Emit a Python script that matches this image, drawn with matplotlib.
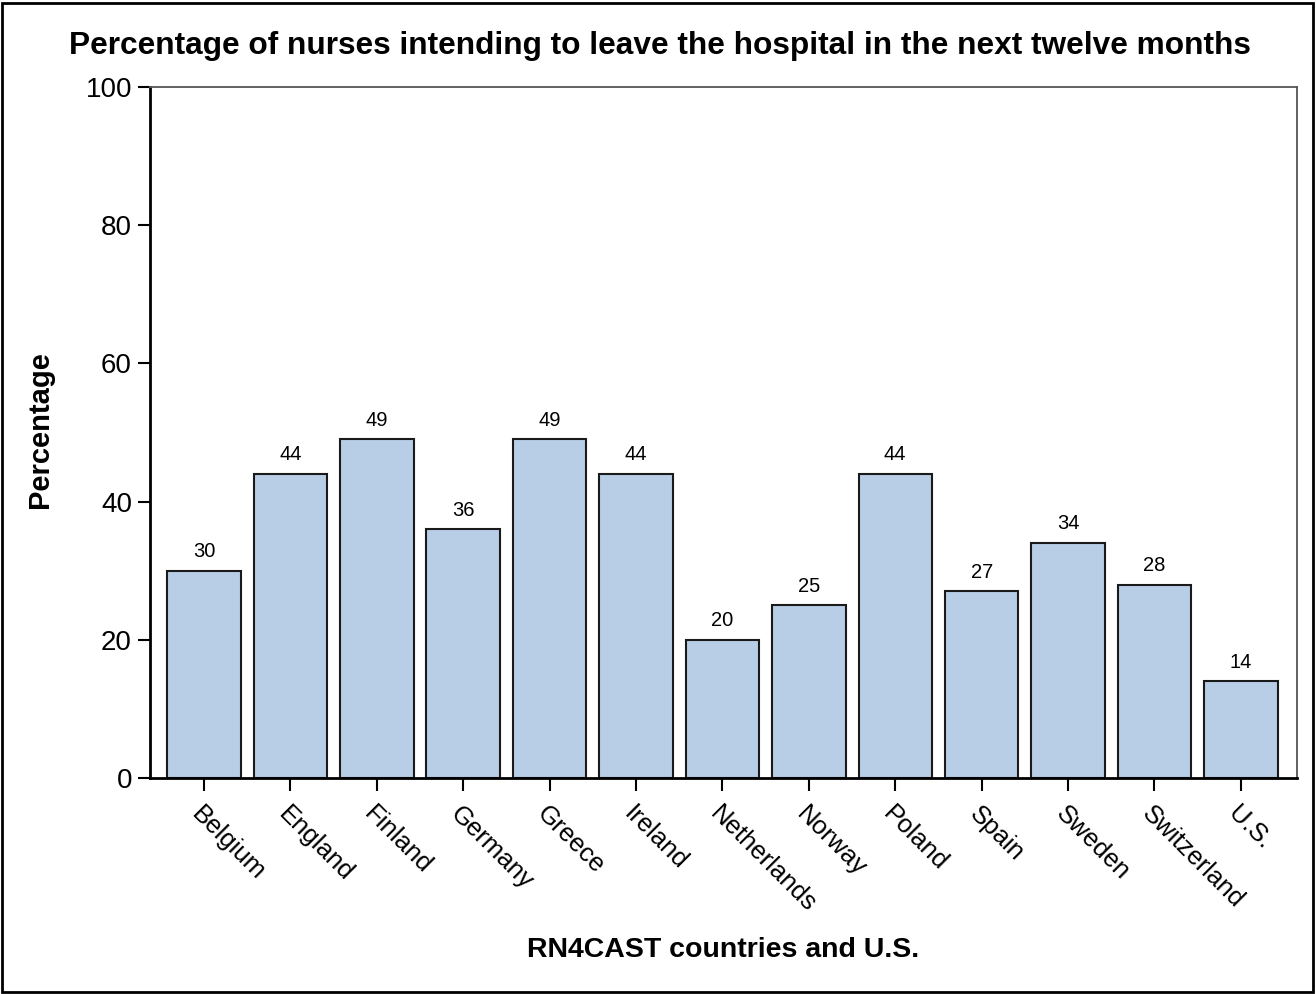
import matplotlib.pyplot as plt
from matplotlib.patches import Rectangle

plt.rcParams['font.family'] = ['Liberation Sans', 'DejaVu Sans']

# Data
countries = ['Belgium', 'England', 'Finland', 'Germany', 'Greece', 'Ireland',
             'Netherlands', 'Norway', 'Poland', 'Spain', 'Sweden',
             'Switzerland', 'U.S.']
pct_leaving = [30, 44, 49, 36, 49, 44, 20, 25, 44, 27, 34, 28, 14]
y_ticks = [0, 20, 40, 60, 80, 100]

W, H = 1316, 994
fig = plt.figure(figsize=(W / 100, H / 100), dpi=100)
ax = fig.add_axes([150 / W, (H - 778) / H, (1297 - 150) / W, (778 - 87) / H])

x = range(len(countries))
bars = ax.bar(x, pct_leaving, width=0.85, color='#b8cde6',
              edgecolor='#1a1a1a', linewidth=1.5, zorder=2)

for xi, v in zip(x, pct_leaving):
    ax.annotate(str(v), (xi, v), xytext=(0, 7), textcoords='offset points',
                ha='center', va='bottom', fontsize=14.5)

ax.set_xlim(-0.625, len(countries) - 1 + 0.65)
ax.set_ylim(0, 100)
ax.set_yticks(y_ticks)
ax.set_yticklabels([str(t) for t in y_ticks], fontsize=20)
ax.set_xticks(list(x))
ax.set_xticklabels(countries, fontsize=18.5, rotation=-45, ha='left', va='top',
                   rotation_mode='anchor')

ax.tick_params(axis='both', direction='out', length=9, width=1.5, color='black')
ax.tick_params(axis='x', pad=8)
ax.tick_params(axis='y', pad=4)

ax.spines['left'].set_linewidth(2)
ax.spines['bottom'].set_linewidth(2)
ax.spines['left'].set_color('black')
ax.spines['bottom'].set_color('black')
ax.spines['top'].set_color('#555555')
ax.spines['right'].set_color('#555555')
ax.spines['top'].set_linewidth(1.3)
ax.spines['right'].set_linewidth(1.3)

fig.text(660 / W, 1 - 46 / H,
         'Percentage of nurses intending to leave the hospital in the next twelve months',
         ha='center', va='center', fontsize=22.8, fontweight='bold')
fig.text(723 / W, 1 - 950 / H, 'RN4CAST countries and U.S.',
         ha='center', va='center', fontsize=20.5, fontweight='bold')
fig.text(40 / W, 1 - 430 / H, 'Percentage', rotation=90,
         ha='center', va='center', fontsize=21, fontweight='bold')

fig.patches.append(Rectangle((2 / W, 2 / H), 1 - 5 / W, 1 - 5 / H,
                             transform=fig.transFigure, fill=False,
                             edgecolor='black', linewidth=2))

fig.savefig('out.png', dpi=100)
